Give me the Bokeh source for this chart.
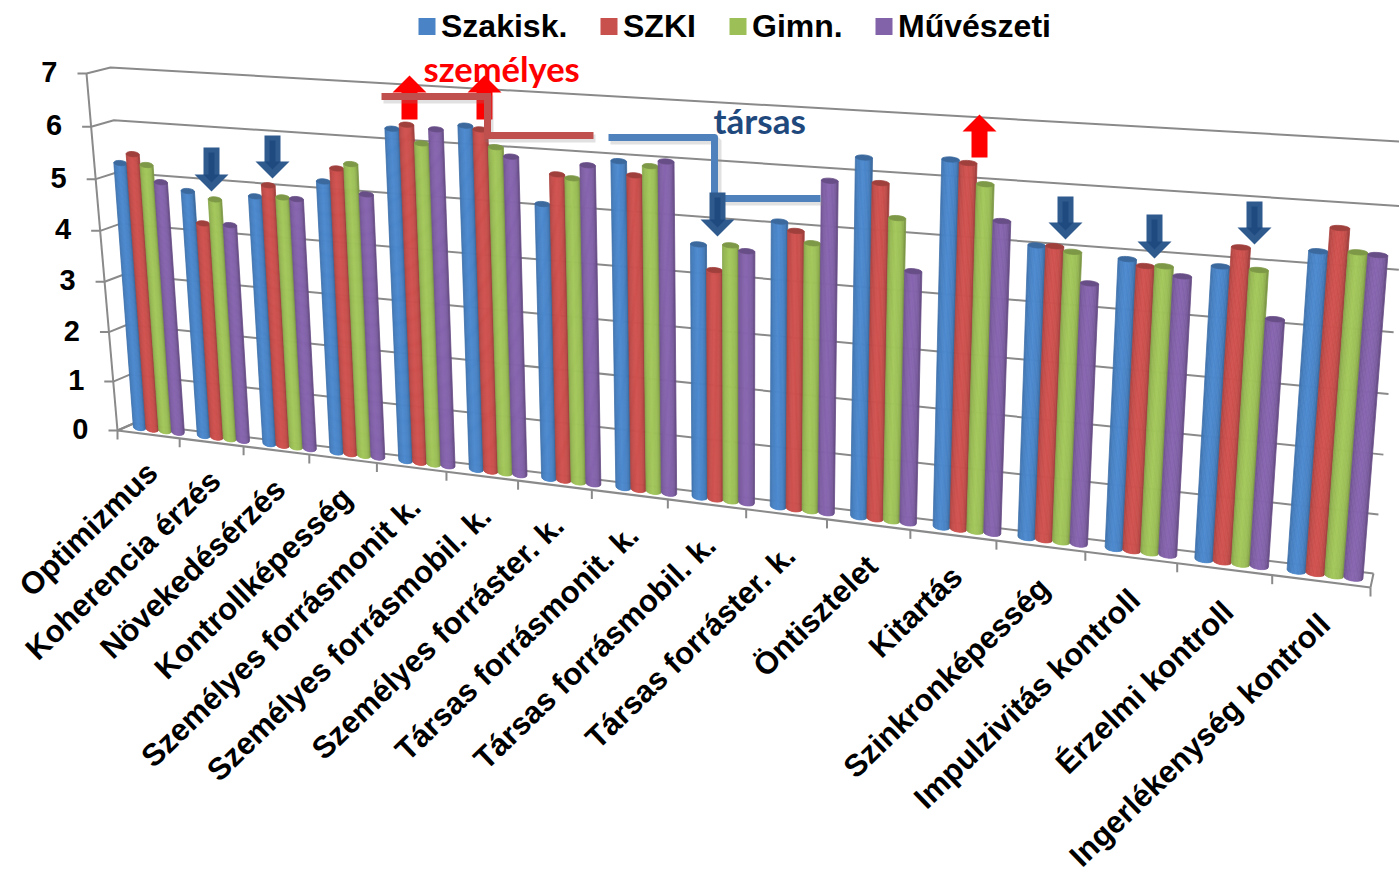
import numpy as np
from bokeh.plotting import figure
from bokeh.models import Range1d
from bokeh.core.properties import value
from bokeh.embed import file_html
from bokeh.resources import INLINE

categories = ["Optimizmus", "Koherencia érzés", "Növekedésérzés", "Kontrollképesség",
              "Személyes forrásmonit k.", "Személyes forrásmobil. k.", "Személyes forráster. k.",
              "Társas forrásmonit. k.", "Társas forrásmobil. k.", "Társas forráster. k.",
              "Öntisztelet", "Kitartás", "Szinkronképesség", "Impulzivitás kontroll",
              "Érzelmi kontroll", "Ingerlékenység kontroll"]
szakisk = [5.25, 4.81, 4.81, 5.19, 6.25, 6.39, 5.08, 5.94, 4.58, 5.09, 6.28, 6.34, 5.02, 4.91, 4.91, 5.27]
szki = [5.44, 4.21, 5.04, 5.45, 6.34, 6.34, 5.63, 5.71, 4.15, 4.95, 5.87, 6.30, 5.03, 4.82, 5.24, 5.66]
gimn = [5.25, 4.69, 4.83, 5.55, 6.02, 6.04, 5.58, 5.89, 4.61, 4.76, 5.30, 5.97, 4.96, 4.84, 4.90, 5.30]
muveszeti = [4.94, 4.22, 4.82, 5.01, 6.29, 5.89, 5.83, 5.99, 4.53, 5.85, 4.42, 5.38, 4.46, 4.70, 4.13, 5.28]
series_names = ["Szakisk.", "SZKI", "Gimn.", "Művészeti"]
series_colors = ["#4A84C6", "#C8504D", "#9DBF58", "#8262A8"]
value_ticks = [0, 1, 2, 3, 4, 5, 6, 7]

series = [szakisk, szki, gimn, muveszeti]
N_CAT = len(categories)
V_MAX = 7.0


def homography(p00, p10, p11, p01):
    """Projects (category position, value) of a vertical plane of the 3-D box to the page."""
    x0, y0 = p00; x1, y1 = p10; x2, y2 = p11; x3, y3 = p01
    dx1, dx2, sx = x1 - x2, x3 - x2, x0 - x1 + x2 - x3
    dy1, dy2, sy = y1 - y2, y3 - y2, y0 - y1 + y2 - y3
    den = dx1 * dy2 - dx2 * dy1
    g = (sx * dy2 - dx2 * sy) / den
    h = (dx1 * sy - sx * dy1) / den
    a, b, c = x1 - x0 + g * x1, x3 - x0 + h * x3, x0
    d, e, f = y1 - y0 + g * y1, y3 - y0 + h * y3, y0

    def project(u, v):
        s, r = np.asarray(u, float) / N_CAT, np.asarray(v, float) / V_MAX
        w = 1 + g * s + h * r
        return (a * s + b * r + c) / w, (d * s + e * r + f) / w
    return project


bar_plane = homography((126.5, 425), (1372, 579.5), (1406, 145), (100, 70))
back_wall = homography((133, 423), (1373, 573), (1409, 141.5), (110, 67))
front_plane = homography((117, 430), (1370, 587), (1412, 135), (86, 73))

p = figure(width=1399, height=874, output_backend="svg", toolbar_location=None,
           x_range=Range1d(0, 1399), y_range=Range1d(874, 0), min_border=0,
           outline_line_color=None, background_fill_color="white")
p.axis.visible = False
p.grid.visible = False

GRID = "#8a8a8a"
for v in value_ticks:
    bx0, by0 = back_wall(0, v)
    bx1, by1 = back_wall(N_CAT, v)
    fx, fy = front_plane(0, v)
    p.line([fx - 9, fx, bx0, bx1], [fy, fy, by0, by1], line_color=GRID, line_width=2)
    p.text([fx - 29], [fy - 1.5], text=[str(v)], text_font=value("Liberation Sans"), text_font_style="bold",
           text_font_size="29px", text_align="right", text_baseline="middle", text_color="black")
lx, ly = front_plane(np.array([0, 0]), np.array([0, V_MAX]))
p.line(lx, ly, line_color=GRID, line_width=2)
fx, fy = front_plane(np.arange(N_CAT + 1), np.zeros(N_CAT + 1))
p.line(fx, fy, line_color=GRID, line_width=2.2)
p.segment(fx, fy, fx, fy + 9, line_color=GRID, line_width=2)
ex, ey = back_wall(N_CAT, 0)
p.line([fx[-1], ex], [fy[-1], ey], line_color=GRID, line_width=2)
bx, by = back_wall(0, 0)
p.line([fx[0], bx], [fy[0], by], line_color=GRID, line_width=2)


def shade(col, f):
    rgb = [int(col[i:i + 2], 16) for i in (1, 3, 5)]
    return "#%02x%02x%02x" % tuple(min(255, int(c * f)) for c in rgb)


OFFS = [-0.3, -0.1, 0.1, 0.3]
HALF = 0.1
T = np.linspace(-1, 1, 15)
TC = (T[:-1] + T[1:]) / 2
FACT = np.interp(TC, [-1, -0.7, -0.1, 0.5, 0.85, 1], [0.85, 0.97, 1.05, 1.0, 0.9, 0.72])

xs, ys, cols = [], [], []
for g in range(N_CAT):
    for k, vals in enumerate(series):
        uc = g + 0.5 + OFFS[k]
        val = vals[g]
        for j, f in enumerate(FACT):
            tt = np.linspace(T[j], T[j + 1], 3)
            uu = uc + HALF * tt
            bxs, bys = bar_plane(uu, np.zeros(3))
            bys = bys + 3.5 * np.sqrt(np.clip(1 - tt ** 2, 0, 1))
            txs, tys = bar_plane(uu[::-1], np.full(3, val))
            xs.append(list(bxs) + list(txs))
            ys.append(list(bys) + list(tys))
            cols.append(shade(series_colors[k], f))
        th = np.linspace(0, 2 * np.pi, 20)
        cxs, cys = bar_plane(uc + HALF * np.cos(th), np.full(20, val))
        xs.append(list(cxs))
        ys.append(list(cys + 2.6 * np.sin(th)))
        cols.append(shade(series_colors[k], 0.80))

p.patches(xs, ys, fill_color=cols, line_color=cols, line_width=0.8)

lab_u = np.arange(N_CAT) + 0.5
lab_x, lab_y = front_plane(lab_u, np.zeros(N_CAT))
p.text(lab_x + 4, lab_y + 33 + 5 * lab_u / N_CAT, text=categories, angle=44, angle_units="deg",
       text_font=value("Liberation Sans"), text_font_style="bold", text_font_size="31px",
       text_align="right", text_baseline="middle", text_color="black")

leg_x = [418, 600, 729, 875]
p.rect([x + 8.5 for x in leg_x], [26] * 4, width=17, height=17, fill_color=series_colors, line_color=None)
p.text([x + 22.5 for x in leg_x], [25] * 4, text=series_names,
       text_font=value("Liberation Sans"), text_font_style="bold", text_font_size="32px",
       text_align="left", text_baseline="middle", text_color="black")


def up_arrow(tip_x, tip_y, base_y, end_y):
    return ([tip_x, tip_x + 17, tip_x + 8, tip_x + 8, tip_x - 8, tip_x - 8, tip_x - 17],
            [tip_y, base_y, base_y, end_y, end_y, base_y, base_y])


for ax, ay, ab, ae in [(409, 75, 92, 119), (484, 75, 92, 119), (979, 114, 131, 157)]:
    ux, uy = up_arrow(ax, ay, ab, ae)
    p.patch(ux, uy, fill_color="#FF0000", line_color=None)

RB, BB = "#C0504D", "#4F81BD"
p.line([383, 489, 489, 595], [99, 99, 138, 138], line_color="#888888", line_alpha=0.25, line_width=8, line_join="miter")
p.line([381, 487, 487, 593], [96, 96, 135, 135], line_color=RB, line_width=7, line_join="miter")
p.line([610, 717, 717, 822], [140, 140, 201, 201], line_color="#888888", line_alpha=0.25, line_width=8)
p.line([608, 714, 714, 820], [137, 137, 198, 198], line_color=BB, line_width=7, line_join="round")

for ax, top, base, tip in [(211, 147, 174, 191), (272, 135, 161, 178), (717, 192, 219, 236),
                           (1065, 196, 222, 239), (1154, 214, 241, 258), (1254, 201, 227, 244)]:
    p.patch([ax - 8, ax + 8, ax + 8, ax + 17, ax, ax - 17, ax - 8],
            [top, top, base, base, tip, base, base], fill_color="#2F5A8E", line_color=None)
    p.patch([ax - 3, ax + 3, ax + 3, ax + 8, ax, ax - 8, ax - 3],
            [top + 5, top + 5, base, base, tip - 9, base, base], fill_color="#1F4A80", line_color=None)

p.text([423], [68], text=["személyes"], text_font=value("Lato"), text_font_style="bold", text_font_size="34.5px",
       text_align="left", text_baseline="middle", text_color="#FF0000")
p.text([713], [119.5], text=["társas"], text_font=value("Lato"), text_font_style="bold", text_font_size="35px",
       text_align="left", text_baseline="middle", text_color="#1F497D")

open("out.html", "w").write(file_html(p, INLINE))
